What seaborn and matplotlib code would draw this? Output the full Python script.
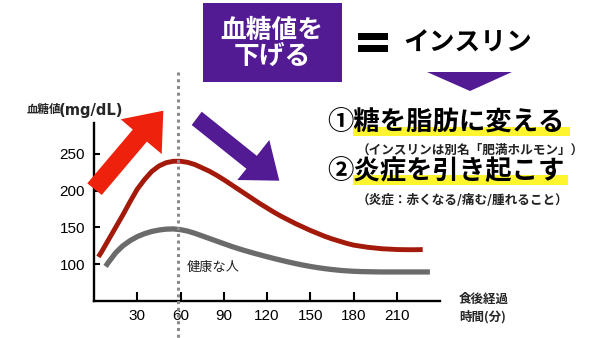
import matplotlib
matplotlib.use("Agg")
import matplotlib.pyplot as plt
import matplotlib.transforms as mtransforms
from matplotlib.patches import Polygon, Rectangle
import seaborn as sns
import pandas as pd

# ---------------- data ----------------
red_time = [3, 5, 10, 15, 20, 25, 30, 35, 40, 45, 50, 55, 60, 65, 70, 75, 80, 85,
            90, 95, 100, 105, 110, 115, 120, 125, 130, 135, 140, 145, 150, 155,
            160, 165, 170, 175, 180, 185, 190, 195, 200, 205, 210, 215, 220, 225, 228]
red_value = [110, 116, 133, 150, 167, 185, 202, 215, 226, 233.5, 238, 240, 240,
             238.5, 235.5, 231, 226.5, 221, 215, 208.5, 202, 195.5, 189, 182.5,
             176.5, 170.5, 165, 160, 155, 150.5, 146, 142, 138, 134.5, 131.5, 128.5,
             126, 124.5, 123, 122, 121, 120.5, 120, 119.8, 119.7, 119.8, 120]
gray_time = [8, 10, 15, 20, 25, 30, 35, 40, 45, 50, 55, 60, 65, 70, 75, 80, 85, 90,
             95, 100, 105, 110, 115, 120, 125, 130, 135, 140, 145, 150, 155, 160,
             165, 170, 175, 180, 185, 190, 195, 200, 210, 220, 233]
gray_value = [97, 102.5, 115.5, 125, 132, 137.5, 141.5, 144.5, 146.5, 147.7, 148,
              147, 145, 142, 138.5, 135, 131.5, 128, 124.5, 121.3, 118.3, 115.5,
              112.8, 110.2, 107.7, 105.3, 103, 100.8, 98.8, 97, 95.4, 94, 92.8,
              91.8, 91, 90.4, 90, 89.8, 89.6, 89.5, 89.5, 89.5, 89.5]
peak_time = 58
x_ticks = [30, 60, 90, 120, 150, 180, 210]
y_ticks = [100, 150, 200, 250]

ylabel_jp = "血糖値"
ylabel_unit = "(mg/dL)"
xlabel = "食後経過\n時間(分)"
healthy_label = "健康な人"
box_line1 = "血糖値を"
box_line2 = "下げる"
insulin = "インスリン"
point1 = "①糖を脂肪に変える"
note1 = "（インスリンは別名「肥満ホルモン」）"
point2 = "②炎症を引き起こす"
note2 = "（炎症：赤くなる/痛む/腫れること）"

# ---------------- style ----------------
sns.set_theme(style="white")
plt.rcParams["font.family"] = ["Noto Sans CJK JP", "DejaVu Sans"]

W, H = 600, 338
fig = plt.figure(figsize=(6, 3.38), dpi=100)
fig.patch.set_facecolor("white")


def px(x, y):
    return (x / W, 1 - y / H)


ax = fig.add_axes([94 / W, 37 / H, 346 / W, 178 / H])

df_red = pd.DataFrame({"time": red_time, "value": red_value})
df_gray = pd.DataFrame({"time": gray_time, "value": gray_value})
sns.lineplot(data=df_gray, x="time", y="value", ax=ax, color="#6b6b6b",
             linewidth=3.8, solid_capstyle="butt", solid_joinstyle="round", zorder=3)
sns.lineplot(data=df_red, x="time", y="value", ax=ax, color="#a3190a",
             linewidth=3.5, solid_capstyle="butt", solid_joinstyle="round", zorder=4)

ax.set_xlim(0, 240)
ax.set_ylim(50, 292)
ax.set_xlabel("")
ax.set_ylabel("")
ax.set_xticks(x_ticks, labels=[str(v) for v in x_ticks],
              fontfamily="Liberation Sans", fontsize=11)
ax.set_yticks(y_ticks, labels=[str(v) for v in y_ticks],
              fontfamily="Liberation Sans", fontsize=11)
ax.tick_params(axis="x", direction="in", length=6.5, width=1.5, color="black",
               bottom=True, pad=6, labelcolor="black")
ax.tick_params(axis="y", direction="in", length=4.5, width=1.5, color="black",
               left=True, pad=6.5, labelcolor="black")
sns.despine(ax=ax)
for s in ("left", "bottom"):
    ax.spines[s].set_linewidth(1.7)
    ax.spines[s].set_color("black")
ax.set_facecolor("none")

# dotted vertical line (data x, figure y)
trans = mtransforms.blended_transform_factory(ax.transData, fig.transFigure)
ax.plot([peak_time, peak_time], [1 - 72 / H, 0], transform=trans, clip_on=False,
        color="#8a8a8a", linewidth=2.2, linestyle=(0, (1.0, 1.2)), zorder=6,
        solid_capstyle="butt", dash_capstyle="butt")

ax.text(187 / W, 1 - 267 / H, healthy_label, transform=fig.transFigure,
        fontsize=9.5, color="#222222", ha="left", va="center")

# axis labels
fig.text(*px(27, 110), ylabel_jp, fontsize=8.3, fontweight="bold", ha="left", va="center")
fig.text(*px(59, 110), ylabel_unit, fontsize=10.6, family="DejaVu Sans",
         fontweight="bold", ha="left", va="center")
fig.text(*px(459, 308), xlabel, fontsize=9, fontweight="bold", ha="left", va="center",
         linespacing=1.45)

# ---------------- decorations ----------------
def poly(points, color, z=10):
    p = Polygon([px(x, y) for x, y in points], closed=True, transform=fig.transFigure,
                facecolor=color, edgecolor="none", zorder=z)
    fig.patches.append(p)


def rect(x0, y0, x1, y1, color, z=5):
    r = Rectangle(px(x0, y1), (x1 - x0) / W, (y1 - y0) / H, transform=fig.transFigure,
                  facecolor=color, edgecolor="none", zorder=z)
    fig.patches.append(r)


red_arrow = [(87.3, 183.3), (132.8, 129.6), (120.7, 119.3), (163.3, 110.7),
             (161.7, 154.0), (146.9, 141.6), (101.7, 195.0)]
purple_arrow = [(191.7, 125.0), (201.7, 111.7), (256.8, 155.8), (269.3, 140.0),
                (279.3, 180.7), (237.3, 180.0), (246.4, 168.75)]
poly(red_arrow, "#ee220c", z=20)
poly(purple_arrow, "#531b93", z=20)

# purple box with text
rect(203, 3, 342, 82, "#531b93", z=5)
fig.text(*px(272, 30), box_line1, fontsize=18.5, fontweight="bold", color="white",
         ha="center", va="center", zorder=6)
fig.text(*px(272, 57), box_line2, fontsize=18.5, fontweight="bold", color="white",
         ha="center", va="center", zorder=6)

# equals sign
rect(358, 33, 388, 40, "black", z=5)
rect(358, 45, 388, 52, "black", z=5)
fig.text(*px(403, 43), insulin, fontsize=18.5, fontweight="bold", color="black",
         ha="left", va="center")
poly([(427, 72), (512, 72), (470, 91)], "#531b93", z=5)

# highlighted points
rect(353, 127, 570, 136, "#fff52e", z=2)
rect(353, 175, 568, 185, "#fff52e", z=2)
fig.text(*px(327, 123), point1, fontsize=19, fontweight="bold", color="black",
         ha="left", va="center", zorder=6)
fig.text(*px(357, 150), note1, fontsize=9.1, fontweight="bold", color="#222222",
         ha="left", va="center", zorder=6)
fig.text(*px(327, 172), point2, fontsize=19, fontweight="bold", color="black",
         ha="left", va="center", zorder=6)
fig.text(*px(357, 201), note2, fontsize=9.1, fontweight="bold", color="#222222",
         ha="left", va="center", zorder=6)

fig.savefig("out.png", dpi=100, facecolor="white")
